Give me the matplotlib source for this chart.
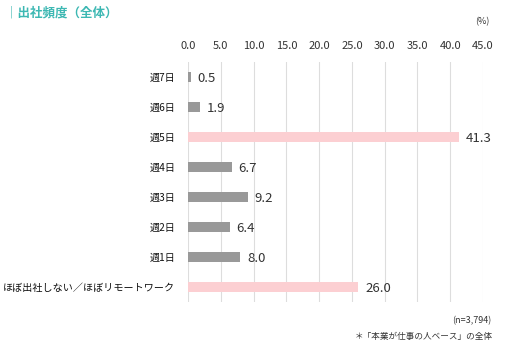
import matplotlib.pyplot as plt

plt.rcParams['font.family'] = ['Noto Sans CJK JP', 'DejaVu Sans']

categories = ['週7日', '週6日', '週5日', '週4日', '週3日', '週2日', '週1日',
              'ほぼ出社しない／ほぼリモートワーク']
values = [0.5, 1.9, 41.3, 6.7, 9.2, 6.4, 8.0, 26.0]
highlight = [False, False, True, False, False, False, False, True]
ticks = [0, 5, 10, 15, 20, 25, 30, 35, 40, 45]

grey = '#999999'
pink = '#fccfd2'
teal = '#3db8b3'

fig = plt.figure(figsize=(5.27, 3.48), dpi=100)
ax = fig.add_axes([188 / 527, 1 - 302 / 348, 295 / 527, 240 / 348])

colors = [pink if h else grey for h in highlight]
ypos = list(range(len(categories)))
ax.barh(ypos, values, height=0.36, color=colors, zorder=3)
for y, v in zip(ypos, values):
    ax.text(v + 1.0, y + 0.06, f'{v:.1f}', va='center', ha='left', fontsize=9.5,
            color='#333333', clip_on=False)

ax.set_xlim(0, 45)
ax.set_ylim(len(categories) - 0.5, -0.5)
ax.set_xticks(ticks)
ax.set_xticklabels([f'{t:.1f}' for t in ticks])
ax.xaxis.tick_top()
ax.tick_params(axis='x', length=0, pad=8, labelsize=8, labelcolor='#333333')
ax.set_yticks(ypos)
ax.set_yticklabels(categories)
ax.tick_params(axis='y', length=0, pad=9, labelsize=7.25, labelcolor='#111111')
ax.grid(axis='x', color='#dddddd', linewidth=0.8, zorder=0)
for s in ax.spines.values():
    s.set_visible(False)

fig.text(5 / 527, 1 - 13 / 348, '｜出社頻度（全体）', color=teal, fontsize=9,
         fontweight='bold', va='center', ha='left')
fig.text(490 / 527, 1 - 22 / 348, '(%)', fontsize=6.5, color='#333333',
         va='center', ha='right')
fig.text(491 / 527, 1 - 321 / 348, '(n=3,794)', fontsize=6.5, color='#333333',
         va='center', ha='right')
fig.text(493 / 527, 1 - 336 / 348, '＊「本業が仕事の人ベース」の全体', fontsize=6.2,
         color='#333333', va='center', ha='right')

fig.savefig('out.png', dpi=100, facecolor='white')
